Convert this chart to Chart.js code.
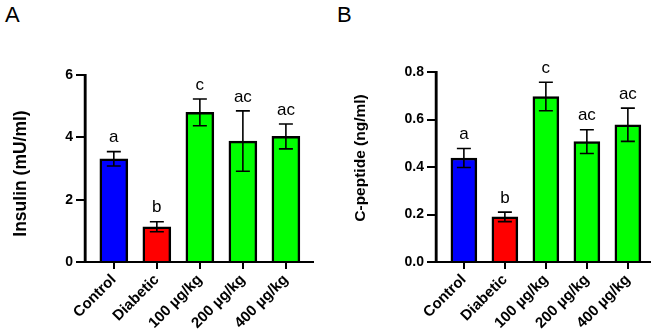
<!DOCTYPE html>
<html>
<head>
<meta charset="utf-8">
<script src="https://cdn.jsdelivr.net/npm/chart.js@4.4.0/dist/chart.umd.min.js"></script>
<style>
  html, body { margin: 0; padding: 0; background: #fff; }
  #wrap { position: relative; width: 661px; height: 334px; overflow: hidden; }
  .panel { position: absolute; top: 0; height: 334px; }
  .tag { position: absolute; top: 2px; font: 22px "Liberation Sans", Arial, sans-serif; color: #000; }
</style>
</head>
<body>
<div id="wrap">
  <div class="tag" style="left:5px">A</div>
  <div class="tag" style="left:337px">B</div>
  <div class="panel" style="left:0;width:330px"><canvas id="chartA" width="330" height="334"></canvas></div>
  <div class="panel" style="left:330px;width:331px"><canvas id="chartB" width="331" height="334"></canvas></div>
</div>
<script>
  // groups
  const categories = ['Control', 'Diabetic', '100 µg/kg', '200 µg/kg', '400 µg/kg'];
  const barColors = ['#0000ff', '#ff0000', '#00ff00', '#00ff00', '#00ff00'];

  // A: insulin (mean, SEM, letters)
  const insulinMean = [3.31, 1.13, 4.80, 3.88, 4.03];
  const insulinErr = [0.23, 0.16, 0.43, 0.97, 0.40];
  const insulinLetters = ['a', 'b', 'c', 'ac', 'ac'];
  const insulinTicks = [0, 2, 4, 6];

  // B: C-peptide
  const cpepMean = [0.438, 0.19, 0.697, 0.507, 0.578];
  const cpepErr = [0.04, 0.02, 0.06, 0.05, 0.07];
  const cpepLetters = ['a', 'b', 'c', 'ac', 'ac'];
  const cpepTicks = [0, 0.2, 0.4, 0.6, 0.8];

  const FONT = '"Liberation Sans", Arial, sans-serif';

  // error bars + significance letters
  const errPlugin = {
    id: 'errBars',
    afterDatasetsDraw(chart) {
      const { ctx, scales: { x, y } } = chart;
      const o = chart.options.plugins.errBars;
      ctx.save();
      ctx.strokeStyle = '#000';
      ctx.lineWidth = 1.6;
      o.mean.forEach((m, i) => {
        const px = x.getPixelForValue(i);
        const top = y.getPixelForValue(m + o.err[i]);
        const bot = y.getPixelForValue(m - o.err[i]);
        ctx.beginPath();
        ctx.moveTo(px, top); ctx.lineTo(px, bot);
        ctx.moveTo(px - 7, top); ctx.lineTo(px + 7, top);
        ctx.moveTo(px - 7, bot); ctx.lineTo(px + 7, bot);
        ctx.stroke();
        ctx.fillStyle = '#000';
        ctx.font = '17px ' + FONT;
        ctx.textAlign = 'center';
        ctx.textBaseline = 'middle';
        ctx.fillText(o.letters[i], px, top - 14);
      });
      ctx.restore();
    }
  };

  // rotated y title (placed a bit off the axis centre, like the original) + axis spine
  const yTitlePlugin = {
    id: 'yTitle',
    afterDraw(chart) {
      const o = chart.options.plugins.yTitle;
      const { ctx, chartArea, scales: { y } } = chart;
      ctx.save();
      ctx.strokeStyle = '#000';
      ctx.lineWidth = 2.5;
      ctx.beginPath();
      ctx.moveTo(chartArea.left, y.getPixelForValue(y.max) - 1);
      ctx.lineTo(chartArea.left, y.getPixelForValue(y.min) + 1);
      ctx.stroke();
      ctx.translate(o.x, (chartArea.top + chartArea.bottom) / 2 + o.dy);
      ctx.rotate(-Math.PI / 2);
      ctx.font = 'bold ' + o.size + 'px ' + FONT;
      ctx.fillStyle = '#000';
      ctx.textAlign = 'center';
      ctx.textBaseline = 'middle';
      ctx.fillText(o.text, 0, 0);
      ctx.restore();
    }
  };

  function makeChart(id, mean, err, letters, ticks, title, opt) {
    return new Chart(document.getElementById(id), {
      type: 'bar',
      data: {
        datasets: [{
          data: mean.map((v, i) => ({ x: i, y: v })),
          backgroundColor: barColors,
          borderColor: '#000',
          borderWidth: 2.5,
          borderSkipped: 'bottom',
          barThickness: opt.barW
        }]
      },
      options: {
        responsive: false,
        animation: false,
        layout: { padding: { top: opt.top, right: opt.right, left: 0, bottom: 0 } },
        plugins: {
          legend: { display: false },
          tooltip: { enabled: false },
          errBars: { mean, err, letters },
          yTitle: { text: title, x: opt.titleX, dy: opt.titleDy, size: opt.titleSize }
        },
        scales: {
          x: {
            type: 'linear',
            offset: false,
            min: opt.xMin, max: opt.xMax,
            border: { color: '#000', width: 2 },
            grid: { offset: false, drawOnChartArea: false, color: '#000', lineWidth: 2, tickLength: 7 },
            ticks: {
              stepSize: 1, includeBounds: false, autoSkip: false,
              maxRotation: 45, minRotation: 45, padding: 2,
              color: '#000', font: { family: FONT, size: 15, weight: 'bold' },
              callback: v => categories[v]
            },
            afterFit: s => { s.height = 72; s.paddingLeft = 0; s.paddingRight = 0; }
          },
          y: {
            min: ticks[0], max: ticks[ticks.length - 1],
            border: { display: true, color: '#000', width: 2.5 },
            grid: { drawOnChartArea: false, color: '#000', lineWidth: 2, tickLength: 9 },
            afterBuildTicks: s => { s.ticks = ticks.map(v => ({ value: v })); },
            ticks: {
              padding: 3, color: '#000',
              font: { family: FONT, size: 14, weight: 'bold' },
              callback: v => opt.dec ? v.toFixed(1) : v
            },
            afterFit: s => { s.width = opt.axisX; s.paddingTop = 0; s.paddingBottom = 0; }
          }
        }
      },
      plugins: [errPlugin, yTitlePlugin]
    });
  }

  makeChart('chartA', insulinMean, insulinErr, insulinLetters, insulinTicks, 'Insulin (mU/ml)',
    { top: 75, right: 17, axisX: 85, xMin: -0.67, xMax: 4.63, barW: 28,
      titleX: 21, titleDy: 5, titleSize: 17.5, dec: false });
  makeChart('chartB', cpepMean, cpepErr, cpepLetters, cpepTicks, 'C-peptide (ng/ml)',
    { top: 72, right: 11, axisX: 106, xMin: -0.68, xMax: 4.54, barW: 26,
      titleX: 31, titleDy: -9, titleSize: 15.5, dec: true });
</script>
</body>
</html>
